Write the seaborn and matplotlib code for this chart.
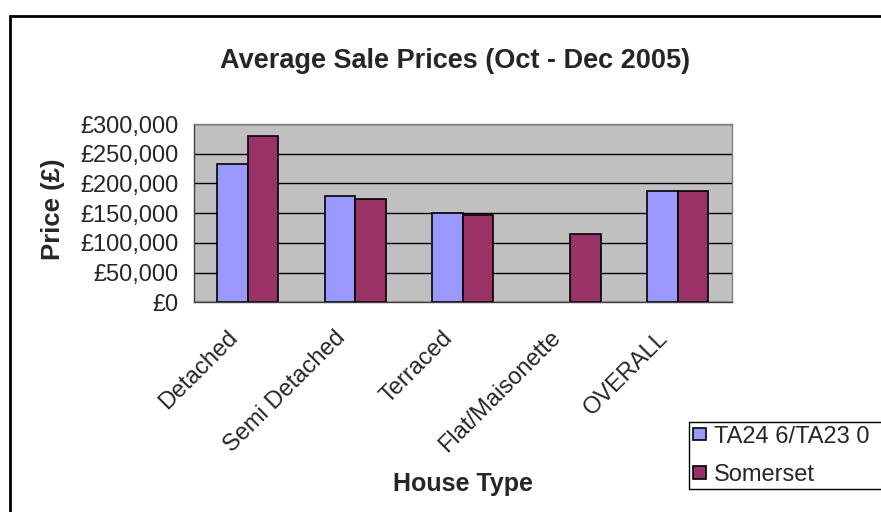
import numpy as np
import pandas as pd
import matplotlib.pyplot as plt
import matplotlib.ticker as mticker
import matplotlib.transforms as mtransforms
from matplotlib.patches import Rectangle
import seaborn as sns

# 数据
house_types = ['Detached', 'Semi Detached', 'Terraced', 'Flat/Maisonette', 'OVERALL']
series_names = ['TA24 6/TA23 0', 'Somerset']
ta_prices = [233000, 179000, 150000, np.nan, 187000]
somerset_prices = [280000, 173000, 147000, 115000, 187000]
y_ticks = [0, 50000, 100000, 150000, 200000, 250000, 300000]
bar_colors = ['#9999FF', '#993366']

df = pd.DataFrame({
    'House Type': house_types * 2,
    'Area': [series_names[0]] * 5 + [series_names[1]] * 5,
    'Price': ta_prices + somerset_prices,
})

sns.set_style('white')
plt.rcParams['font.family'] = ['Liberation Sans', 'DejaVu Sans']

fig = plt.figure(figsize=(8.81, 5.12), dpi=100)
ax = fig.add_axes([194 / 881, 1 - 302.3 / 512, 537.5 / 881, 178.3 / 512])

sns.barplot(data=df, x='House Type', y='Price', hue='Area', order=house_types,
            hue_order=series_names, palette=bar_colors, width=0.567,
            edgecolor='black', linewidth=1.2, errorbar=None, saturation=1,
            ax=ax)

ax.set_facecolor('#C0C0C0')
ax.set_xlim(-0.5, 4.5)
ax.set_ylim(0, 300000)
ax.set_yticks(y_ticks)
ax.yaxis.set_major_formatter(mticker.FuncFormatter(lambda v, p: f'£{v:,.0f}'))
ax.grid(axis='y', color='black', linewidth=1)
ax.set_axisbelow(True)

# Excel 风格：刻度在类别边界
ax.set_xticks(np.arange(-0.5, 5, 1), minor=True)
ax.tick_params(axis='x', which='major', length=0, pad=17.5)
ax.tick_params(axis='x', which='minor', length=6, width=1, color='#404040', direction='out')
ax.tick_params(axis='y', length=6, width=1, color='#404040', direction='out', labelsize=17, pad=5)
shift = mtransforms.ScaledTranslation(-21 / 100, 0, fig.dpi_scale_trans)
for lbl in ax.get_xticklabels():
    lbl.set_rotation(45)
    lbl.set_ha('right')
    lbl.set_rotation_mode('anchor')
    lbl.set_fontsize(17)
    lbl.set_transform(lbl.get_transform() + shift)

for side in ['left', 'bottom']:
    ax.spines[side].set_color('#404040')
    ax.spines[side].set_linewidth(1)
for side in ['top', 'right']:
    ax.spines[side].set_color('#808080')
    ax.spines[side].set_linewidth(1)

ax.set_xlabel('House Type', fontsize=18, fontweight='bold')
ax.xaxis.set_label_coords(0.5, -1.02)
ax.xaxis.label.set_va('center')
ax.set_ylabel('Price (£)', fontsize=18.5, fontweight='bold')
ax.yaxis.set_label_coords(-0.262, 0.523)
ax.yaxis.label.set_va('center')

fig.text(455 / 881, 1 - 61 / 512, 'Average Sale Prices (Oct - Dec 2005)',
         ha='center', va='center', fontsize=19.5, fontweight='bold')

# 图例框超出右边界（原图被裁切）
ax.legend(loc='upper left', bbox_to_anchor=(689 / 881, 1 - 489 / 512, 0.3, 67 / 512),
          bbox_transform=fig.transFigure, mode='expand', fontsize=17, frameon=True,
          fancybox=False, edgecolor='black', framealpha=1, borderaxespad=0,
          handlelength=0.55, handleheight=0.45, handletextpad=0.35,
          labelspacing=0.68, borderpad=0.15, title=None)

# 图表外框
fig.patches.append(Rectangle((9.5 / 881, -0.1), 1.2, 1 - 16 / 512 + 0.1,
                             transform=fig.transFigure, fill=False,
                             edgecolor='black', linewidth=2))

fig.savefig('out.png', dpi=100)
